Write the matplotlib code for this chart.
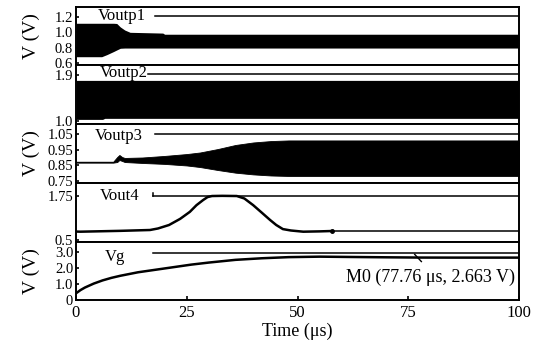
import matplotlib
matplotlib.use('Agg')
import matplotlib.pyplot as plt

plt.rcParams['font.family'] = ['Liberation Serif', 'DejaVu Serif']
plt.rcParams['mathtext.fontset'] = 'stix'

# Voutp1 envelope (oscillation band)
t1 = [0, 5.8, 7, 8.5, 9.2, 10, 11, 12.2, 19.6, 20, 100]
voutp1_hi = [1.118, 1.118, 1.118, 1.118, 1.115, 1.07, 1.03, 1.0, 0.99, 0.975, 0.975]
voutp1_lo = [0.682, 0.682, 0.71, 0.75, 0.77, 0.792, 0.795, 0.795, 0.795, 0.795, 0.795]

# Voutp2 envelope
t2 = [0, 6, 6.5, 100]
voutp2_hi = [1.80, 1.80, 1.80, 1.80]
voutp2_lo = [1.04, 1.04, 1.06, 1.06]

# Voutp3 envelope
t3 = [0, 8.4, 9.3, 9.8, 10.4, 11, 15, 20, 25, 28, 32, 36, 40, 44, 48, 52, 100]
voutp3_hi = [0.873, 0.873, 0.903, 0.916, 0.903, 0.897, 0.900, 0.910, 0.922, 0.932,
             0.954, 0.980, 0.996, 1.005, 1.009, 1.009, 1.009]
voutp3_lo = [0.867, 0.867, 0.871, 0.884, 0.878, 0.871, 0.865, 0.859, 0.849, 0.839,
             0.820, 0.803, 0.792, 0.785, 0.782, 0.782, 0.782]

# Vout4 curve
t4 = [0, 1, 10, 16.7, 18.5, 21, 23.5, 25.7, 27.2, 28.7, 29.7, 30.7, 33, 36.3,
      38, 40, 42, 43.8, 45.2, 46.7, 48.5, 51.3, 55, 57.9]
vout4 = [0.74, 0.736, 0.76, 0.784, 0.827, 0.926, 1.10, 1.30, 1.49, 1.636, 1.72,
         1.75, 1.755, 1.75, 1.68, 1.49, 1.27, 1.07, 0.926, 0.81, 0.77, 0.736,
         0.745, 0.756]

# Vg curve
tg = [0, 1, 2, 4, 6, 8, 10, 14, 18, 22, 26, 30, 36, 42, 48, 55, 62, 70,
      77.76, 85, 100]
vg = [0.42, 0.62, 0.78, 1.03, 1.23, 1.39, 1.52, 1.74, 1.90, 2.06, 2.22, 2.35,
      2.52, 2.62, 2.69, 2.72, 2.70, 2.68, 2.663, 2.66, 2.66]

xticks = [0, 25, 50, 75, 100]
names = ['Voutp1', 'Voutp2', 'Voutp3', 'Vout4', 'Vg']
yticks = [[0.6, 0.8, 1.0, 1.2], [1.0, 1.9], [0.75, 0.85, 0.95, 1.05],
          [0.5, 1.75], [0, 1.0, 2.0, 3.0]]
ytlabels = [['0.6', '0.8', '1.0', '1.2'], ['1.0', '1.9'],
            ['0.75', '0.85', '0.95', '1.05'], ['0.5', '1.75'],
            ['0', '1.0', '2.0', '3.0']]
ylims = [(0.574, 1.33), (0.95, 2.10), (0.737, 1.114), (0.443, 2.12), (0, 3.64)]

W, H = 542, 345
fig = plt.figure(figsize=(W / 100, H / 100), dpi=100)
edges = [7, 65, 124, 183, 242, 300]
left, right = 76, 519
axes = []
for i in range(5):
    ax = fig.add_axes([left / W, 1 - edges[i + 1] / H, (right - left) / W,
                       (edges[i + 1] - edges[i]) / H])
    ax.set_xlim(0, 100)
    ax.set_ylim(*ylims[i])
    ax.set_yticks(yticks[i])
    ax.set_yticklabels(ytlabels[i])
    ax.tick_params(axis='y', direction='in', length=2, width=1.2, labelsize=10.5, pad=2)
    ax.tick_params(axis='x', direction='in', length=3, width=1.2, labelsize=12)
    for s in ax.spines.values():
        s.set_linewidth(1.4)
    if i < 4:
        ax.set_xticks([])
    else:
        ax.set_xticks(xticks)
    axes.append(ax)

a1, a2, a3, a4, a5 = axes
a1.fill_between(t1, voutp1_lo, voutp1_hi, color='black', lw=0)
a2.fill_between(t2, voutp2_lo, voutp2_hi, color='black', lw=0)
a3.fill_between(t3, voutp3_lo, voutp3_hi, color='black', lw=0.6)
a4.plot(t4, vout4, color='black', lw=1.8)
a4.plot(t4[-1], vout4[-1], 'o', color='black', ms=2.5)
a4.plot([t4[-1], 100], [vout4[-1], vout4[-1]], color='black', lw=1.1)
a5.plot(tg, vg, color='black', lw=1.8)

# label names and their reference lines
label_x = [10.4, 10.8, 9.7, 9.8, 8.8]
label_y = [1.21, 1.94, 1.04, 1.75, 2.7]
line_start = [17.8, 16.3, 17.8, 17.4, 17.4]
line_y = [1.21, 1.93, 1.05, 1.75, 2.92]
for ax, nm, lx, ly, ls, yy in zip(axes, names, label_x, label_y, line_start, line_y):
    ax.text(lx, ly, nm, ha='center', va='center', fontsize=12)
    ax.plot([ls, 100], [yy, yy], color='black', lw=1.1)
a4.plot([17.4, 17.4], [1.75, 1.84], color='black', lw=1.1)

# marker M0
m_t, m_v = 77.76, 2.663
a5.plot([m_t - 1.3, m_t + 0.2], [m_v + 0.2, m_v - 0.25], color='black', lw=1)
a5.text(99, 1.45, 'M0 (77.76 \u03bcs, 2.663 V)', ha='right', va='center', fontsize=13)

for ax in (a1, a3, a5):
    ax.set_ylabel('V (V)', fontsize=14)
    ax.yaxis.set_label_coords(-0.082, 0.5)
a5.set_xlabel('Time (\u03bcs)', fontsize=13, labelpad=1)

fig.savefig('out.png', dpi=100)
